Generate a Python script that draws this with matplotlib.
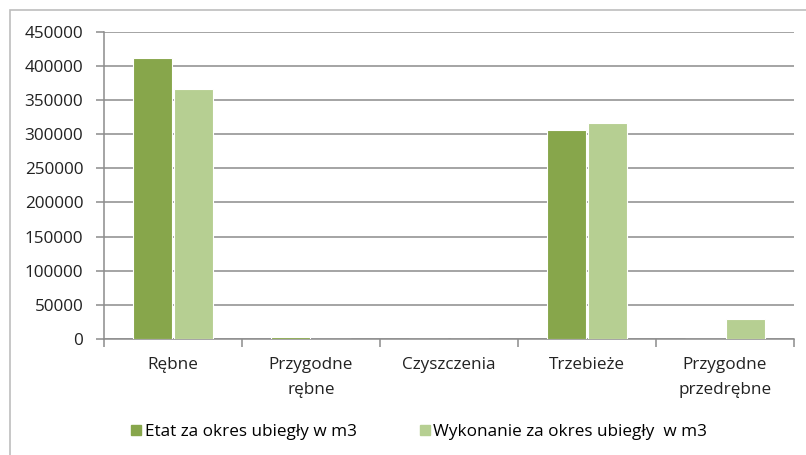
import numpy as np
import matplotlib
matplotlib.use("Agg")
import matplotlib.pyplot as plt
from matplotlib.patches import Rectangle
from matplotlib.lines import Line2D

plt.rcParams['font.family'] = ['Open Sans', 'DejaVu Sans']

categories = ["Rębne", "Przygodne\nrębne", "Czyszczenia", "Trzebieże", "Przygodne\nprzedrębne"]
etat = [412000, 3500, 0, 305500, 0]
wykonanie = [366000, 0, 0, 316500, 28800]
series_names = ["Etat za okres ubiegły w m3", "Wykonanie za okres ubiegły  w m3"]
yticks = np.arange(0, 450001, 50000)

dark = "#87a64b"
light = "#b6cf92"
grid_col = "#8c8c8c"
fs = 12.3

fig = plt.figure(figsize=(8.06, 4.55), dpi=100)
ax = fig.add_axes([0.129, 0.255, 0.856, 0.675])

x = np.arange(len(categories))
w = 0.28
ax.bar(x - w / 2 - 0.007, etat, w, color=dark, edgecolor="white", linewidth=0.8, zorder=3)
ax.bar(x + w / 2 + 0.007, wykonanie, w, color=light, edgecolor="white", linewidth=0.8, zorder=3)

ax.set_xlim(-0.5, len(categories) - 0.5)
ax.set_ylim(0, 450000)
ax.set_yticks(yticks)
ax.set_yticklabels([str(v) for v in yticks], fontsize=fs, color="#222222")
ax.yaxis.grid(True, color=grid_col, linewidth=1.1, zorder=0)
ax.set_axisbelow(True)

ax.set_xticks(x)
ax.set_xticklabels(categories, fontsize=fs, color="#222222", linespacing=1.75)
ax.set_xticks(np.arange(-0.5, len(categories)), minor=True)
ax.tick_params(axis='x', which='major', length=0, pad=13)
ax.tick_params(axis='x', which='minor', length=6, color=grid_col, width=1.1)
ax.tick_params(axis='y', length=6, color=grid_col, width=1.1, pad=9)

for s in ["top", "right"]:
    ax.spines[s].set_visible(False)
ax.spines["left"].set_color(grid_col)
ax.spines["bottom"].set_color(grid_col)
ax.spines["left"].set_linewidth(1.1)
ax.spines["bottom"].set_linewidth(1.1)

handles = [Line2D([], [], marker='s', linestyle='', markersize=7.5, color=dark),
           Line2D([], [], marker='s', linestyle='', markersize=7.5, color=light)]
fig.legend(handles, series_names, loc="center", bbox_to_anchor=(0.519, 0.05),
           ncol=2, frameon=False, fontsize=fs, handletextpad=0.1, columnspacing=3.6,
           handlelength=0.8)

fig.patches.append(Rectangle((10 / 806, -0.1), 1.2, 1 - 10 / 455 + 0.1,
                             transform=fig.transFigure, fill=False,
                             edgecolor="#bdbdbd", linewidth=1.2))

fig.savefig("out.png", dpi=100)
